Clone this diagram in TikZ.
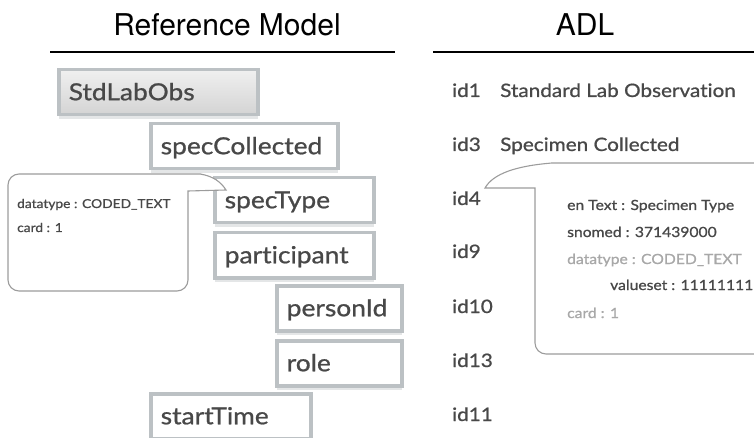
\documentclass[tikz,border=0pt]{standalone}
\usepackage{fontspec}
\setmainfont{Lato}
\newfontfamily\avfont[FakeStretch=1.12, FakeBold=0.9, Ligatures={NoCommon,NoDiscretionary}]{Lato}
\newfontfamily\titlefont{TeX Gyre Heros}
\usetikzlibrary{shadows}
\definecolor{boxborder}{HTML}{BCC1C4}
\definecolor{labeltext}{HTML}{484848}
\definecolor{calloutline}{HTML}{9C9C9C}
\definecolor{lighttext}{HTML}{A8A8A8}
\definecolor{shadowc}{HTML}{E4E6E7}
\begin{document}
\begin{tikzpicture}[x=1pt,y=-1pt,
  box/.style={draw=boxborder, line width=3.5pt, fill=white, anchor=north west,
    inner xsep=10pt, inner ysep=0pt, text=labeltext, align=left,
    font=\avfont\fontsize{23.5}{26}\selectfont, minimum height=45pt,
    text height=18pt, text depth=2pt,
    drop shadow={shadow xshift=0pt, shadow yshift=-4pt, fill=shadowc, opacity=1}},
  rootbox/.style={box, top color=black!6, bottom color=black!17},
  title/.style={anchor=base, font=\titlefont\fontsize{30}{33}\selectfont, text=black, inner sep=0pt},
  rule/.style={line width=1.4pt, black},
  idtext/.style={anchor=base west, font=\avfont\fontsize{18.5}{21}\selectfont, text=labeltext, inner sep=0pt},
  ctext/.style={anchor=base west, font=\avfont\fontsize{12.3}{14}\selectfont, text=labeltext, inner sep=0pt},
  rtext/.style={anchor=base west, font=\avfont\fontsize{14}{16}\selectfont, text=labeltext, inner sep=0pt},
  callout/.style={draw=calloutline, line width=1.1pt, fill=white}
]
\useasboundingbox (0,0) rectangle (754,438);
\clip (0,0) rectangle (754,438);

% titles and rules
\node[title] (tref) at (227,36) {Reference Model};
\node[title] (tadl) at (585,36) {ADL};
\coordinate (r1a) at (50,52); \coordinate (r1b) at (395,52);
\coordinate (r2a) at (433,52); \coordinate (r2b) at (754,52);
\draw[rule] (r1a) -- (r1b);
\draw[rule] (r2a) -- (r2b);

% reference model boxes
\node[rootbox, text width=179pt] (std) at (57,68) {StdLabObs};
\node[box, text width=167pt] (coll) at (149,122) {specCollected};
\node[box, text width=139pt] (stype) at (213,176) {specType};
\node[box, text width=139pt] (part) at (213,231) {participant};
\node[box, text width=105pt] (pers) at (275,284) {personId};
\node[box, text width=105pt] (role) at (275,339) {role};
\node[box, text width=140pt] (start) at (149,392) {startTime};

% left callout
\draw[callout] (200,174) .. controls (213,176) and (221,182) .. (226,190)
  -- (188,191) [rounded corners=11pt] -- (188,291) -- (8,291) -- (8,174) -- (201,174);
\node[ctext] (lc1) at (17,208) {datatype : CODED\_TEXT};
\node[ctext] (lc2) at (17,232) {card : 1};

% ADL ids
\node[idtext] (id1) at (452,97) {id1};
\node[idtext] (n1) at (500,97) {Standard Lab Observation};
\node[idtext] (id3) at (452,151) {id3};
\node[idtext] (n3) at (500,151) {Specimen Collected};
\node[idtext] (id4) at (452,205) {id4};
\node[idtext] (id9) at (452,258) {id9};
\node[idtext] (id10) at (452,313) {id10};
\node[idtext] (id13) at (452,367) {id13};
\node[idtext] (id11) at (452,421) {id11};

% right callout
\draw[callout] (552,163) .. controls (515,166) and (493,174) .. (485,188)
  -- (535,188) [rounded corners=11pt] -- (535,354) -- (790,354) -- (790,163) -- (551,163);
\node[rtext] (rc1) at (567,210) {en Text : Specimen Type};
\node[rtext] (rc2) at (567,237) {snomed : 371439000};
\node[rtext, text=lighttext] (rc3) at (567,264) {datatype : CODED\_TEXT};
\node[rtext] (rc4) at (610,290) {valueset : 11111111};
\node[rtext, text=lighttext] (rc5) at (567,318) {card : 1};
\end{tikzpicture}
\end{document}
